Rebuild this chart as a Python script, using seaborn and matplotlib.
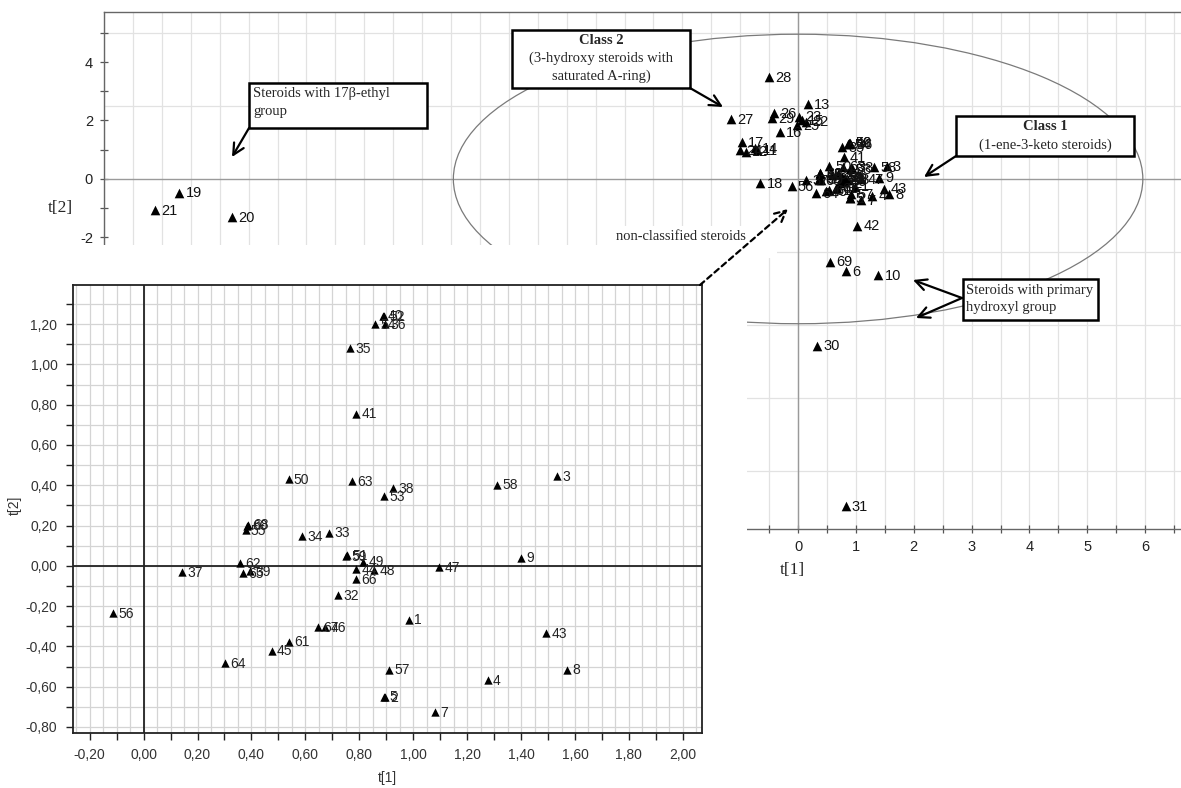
import numpy as np
import pandas as pd
import matplotlib
matplotlib.use("Agg")
import matplotlib.pyplot as plt
import seaborn as sns
from matplotlib.patches import Ellipse, Rectangle, FancyArrowPatch
from matplotlib.ticker import MultipleLocator, FuncFormatter

# ---------------- data ----------------
# points of the central cluster (shown in both the inset and the main score plot)
inset_labels = [40, 52, 54, 36, 35, 41, 50, 63, 38, 53, 58, 3, 60, 68, 55, 34, 33, 59, 51, 49,
                44, 48, 66, 47, 9, 62, 37, 65, 39, 56, 32, 67, 46, 61, 45, 64, 1, 43, 57, 5,
                2, 8, 4, 7]
inset_t1 = [0.887, 0.892, 0.859, 0.896, 0.766, 0.788, 0.538, 0.774, 0.926, 0.892, 1.310, 1.532,
            0.382, 0.386, 0.378, 0.589, 0.689, 0.751, 0.756, 0.815, 0.788, 0.855, 0.788, 1.096,
            1.400, 0.357, 0.142, 0.370, 0.394, -0.113, 0.722, 0.648, 0.673, 0.539, 0.475, 0.303,
            0.984, 1.492, 0.911, 0.892, 0.896, 1.572, 1.276, 1.081]
inset_t2 = [1.242, 1.238, 1.200, 1.198, 1.080, 0.756, 0.429, 0.419, 0.386, 0.346, 0.403, 0.446,
            0.200, 0.204, 0.176, 0.146, 0.164, 0.048, 0.052, 0.021, -0.015, -0.023, -0.065, -0.007,
            0.040, 0.013, -0.032, -0.037, -0.028, -0.234, -0.146, -0.305, -0.305, -0.377, -0.421,
            -0.483, -0.267, -0.334, -0.516, -0.649, -0.652, -0.516, -0.566, -0.725]

# points visible only in the main score plot
main_labels = [19, 21, 20, 28, 27, 13, 26, 29, 23, 22, 15, 25, 16, 17, 24, 12, 11, 14, 18,
               42, 69, 6, 10, 30, 31]
main_t1 = [-10.70, -11.12, -9.78, -0.50, -1.16, 0.17, -0.42, -0.45, 0.02, 0.13, 0.06, -0.02,
           -0.32, -0.97, -1.00, -0.90, -0.71, -0.74, -0.65, 1.02, 0.56, 0.83, 1.39, 0.33, 0.82]
main_t2 = [-0.47, -1.06, -1.31, 3.48, 2.05, 2.56, 2.25, 2.07, 2.13, 1.96, 2.02, 1.85,
           1.60, 1.25, 0.99, 0.93, 0.99, 1.05, -0.15, -1.60, -2.83, -3.15, -3.30, -5.70, -11.20]

# Hotelling T2 ellipse (center, semi-axes)
ellipse_center = (0.0, 0.0)
ellipse_semi_axes = (5.96, 4.95)

df_inset = pd.DataFrame({"label": inset_labels, "t1": inset_t1, "t2": inset_t2})
df_main = pd.concat([pd.DataFrame({"label": main_labels, "t1": main_t1, "t2": main_t2}), df_inset],
                    ignore_index=True)

# ---------------- style ----------------
sns.set_theme(style="white")
plt.rcParams["font.family"] = ["Liberation Sans", "DejaVu Sans"]
plt.rcParams["axes.unicode_minus"] = False
SERIF = ["Liberation Serif", "DejaVu Serif"]

W, H = 1181, 788
fig = plt.figure(figsize=(W / 100, H / 100), dpi=100)
fig.patch.set_facecolor("white")


def fx(x):
    return x / W


def fy(y):
    return 1 - y / H


# ---------------- main score plot ----------------
ax = fig.add_axes([fx(104), fy(529), (1181 - 104) / W, (529 - 12) / H], zorder=1)
ax.set_facecolor("white")
ax.set_xlim(-12, 6.62)
ax.set_ylim(-11.97, 5.71)

ax.xaxis.set_major_locator(MultipleLocator(1))
ax.xaxis.set_minor_locator(MultipleLocator(0.5))
ax.yaxis.set_major_locator(MultipleLocator(2))
ax.yaxis.set_minor_locator(MultipleLocator(1))
ax.xaxis.set_major_formatter(FuncFormatter(lambda v, p: f"{v:g}"))
ax.yaxis.set_major_formatter(FuncFormatter(lambda v, p: f"{v:g}"))
ax.grid(True, which="both", axis="x", color="#e2e2e2", lw=0.9)
for gy in np.arange(-10, 6, 2.5):
    if abs(gy) > 1e-9:
        ax.axhline(gy, color="#e2e2e2", lw=0.9, zorder=0.5)
ax.axhline(0, color="#9a9a9a", lw=1.0, zorder=0.6)
ax.axvline(0, color="#9a9a9a", lw=1.0, zorder=0.6)
ax.set_axisbelow(True)
ax.tick_params(which="both", direction="inout", length=6, width=0.9, color="#555555",
               labelsize=10.5, labelcolor="#222222", bottom=True, left=True, pad=5)
for s in ["top", "left", "bottom"]:
    ax.spines[s].set_color("#666666")
    ax.spines[s].set_linewidth(1.0)
ax.spines["right"].set_visible(False)

ax.add_patch(Ellipse(ellipse_center, 2 * ellipse_semi_axes[0], 2 * ellipse_semi_axes[1],
                     fill=False, ec="#7a7a7a", lw=0.9, zorder=2))

sns.scatterplot(data=df_main, x="t1", y="t2", marker="^", color="black", s=48, linewidth=0,
                ax=ax, legend=False, zorder=3)
for lab, x, y in zip(df_main["label"], df_main["t1"], df_main["t2"]):
    ax.annotate(str(lab), (x, y), xytext=(4.5, -0.5), textcoords="offset points",
                fontsize=10.5, va="center", ha="left", color="#111111", zorder=4)
ax.set_xlabel("")
ax.set_ylabel("")

fig.text(fx(60), fy(208), "t[2]", family=SERIF, fontsize=12.5, ha="center", va="center")
fig.text(fx(792), fy(570), "t[1]", family=SERIF, fontsize=12.5, ha="center", va="center")

# white cover under the inset
fig.add_artist(Rectangle((0, 0), fx(747), fy(245), transform=fig.transFigure,
                         fc="white", ec="none", zorder=2))
# white background behind the "non-classified" label
fig.add_artist(Rectangle((fx(610), fy(258)), (777 - 610) / W, (258 - 226) / H,
                         transform=fig.transFigure, fc="white", ec="none", zorder=2))

# ---------------- inset (zoom on cluster) ----------------
ax2 = fig.add_axes([fx(72.7), fy(733), (701.7 - 72.7) / W, (733 - 285) / H], zorder=3)
ax2.set_facecolor("white")
ax2.set_xlim(-0.263, 2.07)
ax2.set_ylim(-0.83, 1.394)
ax2.xaxis.set_major_locator(MultipleLocator(0.2))
ax2.xaxis.set_minor_locator(MultipleLocator(0.1))
ax2.yaxis.set_major_locator(MultipleLocator(0.2))
ax2.yaxis.set_minor_locator(MultipleLocator(0.1))
comma = FuncFormatter(lambda v, p: f"{v:.2f}".replace(".", ",").replace("-0,00", "0,00"))
ax2.xaxis.set_major_formatter(comma)
ax2.yaxis.set_major_formatter(comma)
for gx in np.arange(-0.25, 2.08, 0.05):
    ax2.axvline(gx, color="#d4d4d4", lw=0.9, zorder=0.5)
for gy in np.arange(-0.8, 1.4, 0.1):
    ax2.axhline(gy, color="#d4d4d4", lw=0.9, zorder=0.5)
ax2.axhline(0, color="#222222", lw=1.3, zorder=0.7)
ax2.axvline(0, color="#222222", lw=1.3, zorder=0.7)
ax2.tick_params(which="both", direction="out", length=5, width=1.0, color="#222222",
                labelsize=10, labelcolor="#333333", bottom=True, left=True, pad=6)
for s in ax2.spines.values():
    s.set_color("#222222")
    s.set_linewidth(1.3)

sns.scatterplot(data=df_inset, x="t1", y="t2", marker="^", color="black", s=36, linewidth=0,
                ax=ax2, legend=False, zorder=3)
for lab, x, y in zip(df_inset["label"], df_inset["t1"], df_inset["t2"]):
    ax2.annotate(str(lab), (x, y), xytext=(3.8, -0.5), textcoords="offset points",
                 fontsize=10, va="center", ha="left", color="#222222", zorder=4)
ax2.set_xlabel("")
ax2.set_ylabel("")

fig.text(fx(15), fy(505), "t[2]", fontsize=10, rotation=90, ha="center", va="center", color="#333333")
fig.text(fx(387), fy(778), "t[1]", fontsize=10, ha="center", va="center", color="#333333")


# ---------------- callouts ----------------
def box(x0, y0, x1, y1):
    fig.add_artist(Rectangle((fx(x0), fy(y1)), (x1 - x0) / W, (y1 - y0) / H,
                             transform=fig.transFigure, fc="white", ec="black", lw=1.8, zorder=5))


def arrow(x0, y0, x1, y1, ls="-"):
    fig.add_artist(FancyArrowPatch(posA=(fx(x0), fy(y0)), posB=(fx(x1), fy(y1)),
                                   transform=fig.transFigure, arrowstyle="->", mutation_scale=20,
                                   lw=1.6, color="black", linestyle=ls, shrinkA=0, shrinkB=0,
                                   zorder=6))


def ftext(x, y, s, ha="left", bold=False):
    fig.text(fx(x), fy(y), s, family=SERIF, fontsize=10.5, ha=ha, va="center",
             fontweight="bold" if bold else "normal", zorder=7)


box(249, 83, 427, 128)
ftext(253, 93, "Steroids with 17β-ethyl")
ftext(253, 111, "group")
arrow(249, 128, 232, 157)

box(512, 30, 690, 88)
ftext(601, 40, "Class 2", ha="center", bold=True)
ftext(601, 58, "(3-hydroxy steroids with", ha="center")
ftext(601, 76, "saturated A-ring)", ha="center")
arrow(690, 88, 723, 107)

box(956, 116, 1134, 156)
ftext(1045, 127, "Class 1", ha="center", bold=True)
ftext(1045, 145, "(1-ene-3-keto steroids)", ha="center")
arrow(956, 156, 924, 177)

box(963, 279, 1098, 320)
ftext(966, 290, "Steroids with primary")
ftext(966, 308, "hydroxyl group")
arrow(962, 298, 913, 280)
arrow(962, 298, 916, 318)

ftext(681, 237, "non-classified steroids", ha="center")
arrow(700, 285, 788, 209, ls=(0, (2.5, 1.8)))

fig.savefig("out.png", dpi=100, facecolor="white")
